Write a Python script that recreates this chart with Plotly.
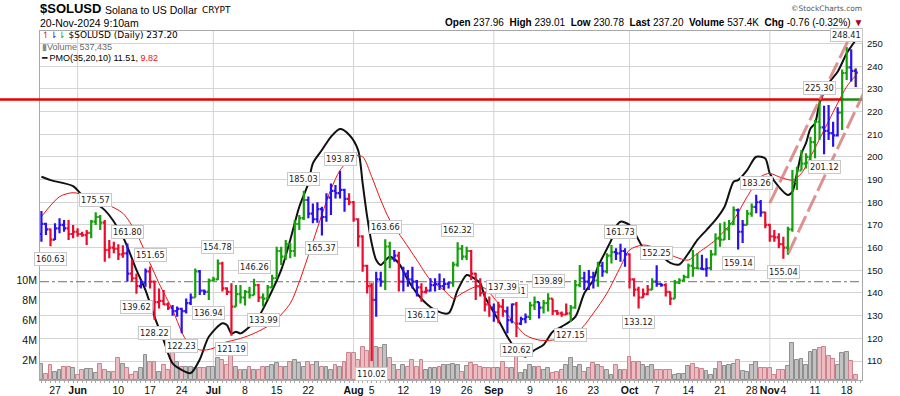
import plotly.graph_objects as go
import pandas as pd

# ---------------- data ----------------
start_date = "2024-05-24"
n_days = 181
dates = list(pd.date_range(start_date, periods=n_days, freq="D"))

opens = [
    166.0,170.5,168.0,163.5,168.5,170.0,168.5,166.0,167.0,166.0,
    165.5,166.5,171.5,173.5,171.0,159.0,160.0,159.5,157.0,157.5,
    148.5,146.5,143.0,144.5,149.5,145.0,136.0,136.5,135.0,133.5,
    132.0,133.0,132.0,135.5,138.0,149.5,141.0,140.5,145.5,146.0,
    153.0,142.0,140.5,134.0,139.5,138.0,140.5,139.0,143.5,138.0,
    137.5,142.5,146.5,158.5,156.0,161.5,158.5,170.5,173.0,181.0,
    175.0,172.5,177.0,173.5,182.0,185.0,184.0,185.5,181.5,180.0,
    172.5,165.0,152.0,143.0,137.0,146.0,145.0,160.5,155.0,156.5,
    145.0,148.5,146.0,145.0,142.5,140.5,141.0,143.5,144.0,143.0,
    144.0,144.5,152.5,159.5,156.0,158.5,148.5,143.0,140.0,135.0,
    133.5,131.5,134.0,132.0,128.0,135.0,126.5,128.5,129.5,134.5,
    136.0,133.5,135.5,137.5,132.0,131.0,130.5,131.0,133.5,143.5,
    146.5,145.0,147.0,145.5,152.0,149.5,156.5,158.0,157.5,158.5,
    157.0,146.0,141.5,138.0,139.5,141.5,145.0,144.0,143.5,140.5,
    137.5,144.5,145.5,147.0,152.0,151.0,150.8,150.5,151.0,157.0,
    164.0,163.5,168.0,170.5,176.5,167.0,170.0,175.0,178.0,180.0,
    175.5,170.0,165.0,164.5,161.5,160.0,168.0,189.0,194.0,197.0,
    200.0,206.5,215.5,213.0,211.5,210.5,209.5,219.5,237.0,239.5,237.96]
highs = [
    176.1,171.0,168.4,170.7,172.9,172.2,172.2,170.0,168.5,167.0,
    167.8,172.2,175.57,174.4,172.2,163.4,162.6,161.5,161.0,161.8,
    154.5,148.6,145.7,150.8,151.65,145.5,142.0,141.3,135.8,134.7,
    134.0,133.5,137.6,139.8,150.8,150.1,141.5,146.4,147.2,154.78,
    153.8,142.5,144.3,143.5,143.5,141.3,142.8,146.26,144.0,139.8,
    143.5,148.0,160.4,160.4,163.4,162.0,172.2,174.4,185.03,182.5,
    179.5,180.0,178.0,184.0,188.3,187.6,193.87,186.0,184.0,180.5,
    173.0,165.5,152.5,144.3,149.4,149.4,163.66,162.6,158.9,158.2,
    151.6,150.1,151.6,145.7,144.3,142.8,146.5,146.5,148.6,146.5,
    145.0,153.8,162.32,161.1,160.4,158.9,148.9,146.5,140.6,138.4,
    135.4,136.1,137.39,134.0,135.41,136.0,129.5,131.0,136.1,138.4,
    136.1,136.9,139.89,137.6,132.5,131.8,135.4,134.7,145.7,152.3,
    149.4,150.1,149.4,153.8,153.8,157.5,161.2,159.7,161.73,159.7,
    157.5,146.5,142.8,142.0,143.5,146.5,152.25,144.3,144.3,140.6,
    145.7,146.5,148.0,153.0,158.9,157.5,156.8,155.3,158.9,166.3,
    170.7,171.4,172.2,178.1,177.3,172.2,176.6,179.5,183.26,181.0,
    175.8,170.5,167.8,166.3,164.8,169.2,194.2,195.7,203.0,201.6,
    208.9,216.3,225.30,222.5,222.9,215.5,221.9,238.5,248.41,247.5,239.01]
lows = [
    162.6,165.6,160.63,163.4,166.3,167.0,163.4,164.1,164.8,164.8,
    161.2,164.1,170.0,167.8,153.8,155.3,157.5,154.5,155.5,145.0,
    145.0,139.62,142.0,142.8,142.0,128.22,133.2,134.7,132.5,130.0,
    129.5,122.23,131.0,134.7,138.0,139.1,139.1,136.94,145.0,145.7,
    140.6,139.1,121.19,133.9,135.4,134.5,137.6,139.0,136.0,133.99,
    137.0,142.0,146.4,152.3,154.5,155.3,156.0,167.8,172.2,172.9,
    170.7,171.0,165.37,171.4,174.4,181.7,181.7,175.8,178.8,171.4,
    160.4,149.4,139.8,110.02,129.5,142.8,141.3,150.9,153.8,140.6,
    140.6,142.8,142.0,138.4,136.12,139.8,140.6,140.6,141.3,141.3,
    142.0,142.8,151.6,154.5,154.5,145.7,136.9,138.4,131.8,129.5,
    127.3,126.6,129.5,122.2,126.6,120.62,125.9,126.6,128.1,132.5,
    128.8,131.0,131.8,130.3,130.3,129.5,130.3,127.15,133.0,142.5,
    141.3,141.3,142.0,142.8,147.2,148.6,153.0,154.5,153.8,151.6,
    142.0,138.4,133.12,137.8,139.0,141.3,142.8,142.8,138.4,134.7,
    137.5,144.0,145.0,146.5,147.2,150.5,150.1,147.2,150.0,156.5,
    160.4,163.4,163.4,170.0,159.14,162.0,170.0,173.6,175.1,173.6,
    168.5,162.6,162.6,159.7,155.04,156.8,167.0,185.4,194.0,194.9,
    196.0,199.4,207.4,201.12,207.4,204.5,209.0,211.9,233.9,233.2,230.78]
closes = [
    170.5,168.0,163.5,168.5,170.0,168.5,166.0,167.0,166.0,165.5,
    166.5,171.5,173.5,171.0,159.0,160.0,159.5,157.0,157.5,148.5,
    146.5,143.0,144.5,149.5,145.0,136.0,136.5,135.0,133.5,132.0,
    133.0,132.0,135.5,138.0,149.5,141.0,140.5,145.5,146.0,153.0,
    142.0,140.5,134.0,139.5,138.0,140.5,139.0,143.5,138.0,137.5,
    142.5,146.5,158.5,156.0,161.5,158.5,170.5,173.0,181.0,175.0,
    172.5,177.0,173.5,182.0,185.0,184.0,185.5,181.5,180.0,172.5,
    165.0,152.0,143.0,137.0,146.0,145.0,160.5,155.0,156.5,145.0,
    148.5,146.0,145.0,142.5,140.5,141.0,143.5,144.0,143.0,144.0,
    144.5,152.5,159.5,156.0,158.5,148.5,143.0,140.0,135.0,133.5,
    131.5,134.0,132.0,128.0,135.0,126.5,128.5,129.5,134.5,136.0,
    133.5,135.5,137.5,132.0,131.0,130.5,131.0,133.5,143.5,146.5,
    145.0,147.0,145.5,152.0,149.5,156.5,158.0,157.5,158.5,157.0,
    146.0,141.5,138.0,139.5,141.5,145.0,144.0,143.5,140.5,137.5,
    144.5,145.5,147.0,152.0,151.0,150.8,150.5,151.0,157.0,164.0,
    163.5,168.0,170.5,176.5,167.0,170.0,175.0,178.0,180.0,175.5,
    170.0,165.0,164.5,161.5,160.0,168.0,189.0,194.0,197.0,200.0,
    206.5,215.5,213.0,211.5,210.5,209.5,219.5,237.0,239.5,237.96,237.20]
# Elder impulse state of each bar: g = green, r = red, b = blue
impulse = list(
    "bbrbbbrrrr" "rgggrrrrrb" "rrbbrrrrrb" "bbbbgbbggg" "rrrgggggrg"
    "gggggggggb" "bbbbbbbbrr" "rrrrbbggbr" "bbbbrrbbbb" "bggggrrrrr"
    "brrbbrbbgg" "bggrrrrggg" "bbbgbggbbb" "rrrrrgbbrr" "ggggggbbgg"
    "ggggbbggbb" "rrrrrggggg" "gggbbbbggb" "b")
volume_m = [
    1.6,0.6,1.5,0.8,1.0,1.3,1.3,1.2,0.5,1.0,
    1.1,1.1,0.7,1.6,1.0,0.8,0.8,2.2,1.6,1.2,
    0.5,0.8,1.2,2.5,1.8,1.8,0.8,1.5,1.0,2.8,
    1.8,1.3,1.3,1.3,1.2,1.2,1.2,1.3,1.3,2.2,
    2.0,1.5,2.6,1.3,1.0,1.0,1.3,1.0,1.0,1.3,
    1.3,1.5,1.7,1.3,1.3,1.8,2.0,1.7,1.3,1.8,
    1.5,1.8,1.3,1.3,1.0,1.5,1.3,1.8,2.67,2.67,
    2.0,3.3,2.9,9.8,3.3,3.2,3.5,2.2,1.5,1.0,
    1.5,1.3,2.0,1.3,2.0,1.0,1.2,1.2,1.3,1.5,
    1.5,1.6,1.5,0.8,1.4,1.7,1.5,1.3,1.2,1.2,
    1.2,1.2,1.8,1.2,1.2,2.5,0.7,1.0,1.5,1.3,
    1.3,1.0,1.2,0.7,0.8,1.0,1.5,2.2,1.3,1.5,
    0.8,1.2,1.7,1.5,1.3,1.0,0.5,1.5,1.0,1.0,
    2.3,1.8,1.8,1.5,1.3,1.5,1.0,1.0,1.0,1.0,
    0.5,0.57,0.6,1.4,1.6,1.23,1.1,0.9,0.5,1.1,
    1.77,1.4,1.5,1.6,2.0,0.93,0.83,1.5,1.83,1.17,
    1.23,1.23,0.5,1.0,1.0,1.4,3.67,2.0,2.1,1.5,
    2.77,3.0,3.17,3.3,2.4,2.1,1.5,2.67,2.77,1.9,0.537435]

# PMO(35,20,10) line and its signal, read at sampled bars (bar index, value)
pmo_idx = [0,2,7,9,14,18,21,23,25,27,29,31,33,35,37,40,41,42,43,44,46,48,50,53,55,57,59,60,62,64,66,68,70,71,72,73,74,75,77,79,81,83,85,87,90,92,94,95,97,98,101,103,105,107,109,111,113,115,118,120,122,123,126,127,128,130,132,133,136,139,141,143,145,147,149,151,153,154,156,158,160,161,163,165,166,167,168,169,170,171,172,174,176,178,179,180]
pmo_val = [5.0,4.84,4.55,4.13,3.41,2.14,0.56,-0.4,-1.67,-2.78,-3.89,-4.2,-4.35,-3.7,-2.62,-1.98,-2.06,-2.46,-2.38,-2.46,-2.14,-1.67,-0.87,0.56,1.99,3.57,4.69,5.64,6.27,6.9,7.27,7.0,6.27,4.69,3.1,1.83,1.03,0.8,1.19,0.88,0.08,-0.55,-1.03,-1.35,-1.5,-0.4,0.32,0.24,-0.08,-0.71,-1.82,-2.62,-3.25,-3.57,-3.25,-3.0,-2.38,-2.14,-1.67,-0.55,0.08,0.71,2.0,2.62,2.86,2.7,1.99,1.63,1.4,0.9,0.82,1.35,1.99,2.46,2.94,3.57,4.76,4.84,5.32,5.95,5.87,5.16,4.52,4.13,4.29,5.16,6.11,6.6,7.3,7.54,8.5,9.45,10.0,10.88,11.2,11.51]
sig_idx = [0,4,7,10,14,18,21,24,26,29,32,35,38,40,44,47,51,55,57,60,62,64,66,69,71,73,75,77,80,83,86,89,91,93,96,98,101,104,107,110,113,116,119,122,125,128,130,133,136,140,143,145,149,153,156,159,161,163,166,168,170,173,176,178,180]
sig_val = [3.1,4.05,4.24,4.08,3.73,3.26,2.3,0.88,-0.08,-1.35,-2.78,-3.25,-3.17,-2.93,-2.7,-2.46,-1.98,-1.03,0.0,1.9,3.2,4.4,5.3,6.0,5.95,5.0,3.89,2.94,1.99,1.03,0.08,-0.4,-0.79,-0.55,-0.24,-0.31,-1.03,-1.82,-2.54,-2.78,-2.78,-2.62,-2.3,-1.5,-0.55,0.71,1.51,1.75,1.59,1.19,1.03,1.35,1.99,2.94,4.05,5.0,5.16,5.0,4.84,5.16,5.95,7.22,8.5,9.29,9.82]

# swing labels: (bar index, value)
high_labels = [(12,175.57),(19,161.80),(24,151.65),(39,154.78),(47,146.26),(58,185.03),
               (66,193.87),(76,163.66),(92,162.32),(104,135.41),(102,137.39),(112,139.89),
               (128,161.73),(136,152.25),(158,183.26),(172,225.30),(178,248.41)]
low_labels = [(2,160.63),(21,139.62),(25,128.22),(31,122.23),(37,136.94),(42,121.19),
              (49,133.99),(62,165.37),(73,110.02),(84,136.12),(105,120.62),(117,127.15),
              (132,133.12),(154,159.14),(164,155.04),(173,201.12)]

# trend channel drawn by the chartist (bar index, price)
chan_upper_idx = [161.0, 179.35]; chan_upper_val = [179.6, 255.5]
chan_lower_idx = [165.1, 183.1];  chan_lower_val = [157.5, 233.9]
resist_idx = 172  # horizontal line at that bar's high

tick_days = ["2024-05-27","2024-06-01","2024-06-10","2024-06-17","2024-06-24","2024-07-01",
             "2024-07-08","2024-07-15","2024-07-22","2024-08-01","2024-08-05","2024-08-12",
             "2024-08-19","2024-08-26","2024-09-01","2024-09-09","2024-09-16","2024-09-23",
             "2024-10-01","2024-10-07","2024-10-14","2024-10-21","2024-10-28","2024-11-01",
             "2024-11-04","2024-11-11","2024-11-18"]
tick_text = ["27","<b>Jun</b>","10","17","24","<b>Jul</b>","8","15","22","<b>Aug</b>","5","12",
             "19","26","<b>Sep</b>","9","16","23","<b>Oct</b>","7","14","21","28","<b>Nov</b>",
             "4","11","18"]
month_starts = ["2024-06-01","2024-07-01","2024-08-01","2024-09-01","2024-10-01","2024-11-01"]
price_ticks = [110,120,130,140,150,160,170,180,190,200,210,220,230,240,250]
vol_ticks = [2e6,4e6,6e6,8e6,10e6]
vol_text = ["2M","4M","6M","8M","10M"]

# ---------------- figure ----------------
d0 = pd.Timestamp(start_date)
def day(i):
    return d0 + pd.Timedelta(days=float(i))

GREEN, RED, BLUE = "#14a00a", "#ec0b2c", "#2a10ec"
imp_color = {"g": GREEN, "r": RED, "b": BLUE}
FONT = "Liberation Sans, Arial, sans-serif"
VFONT = "DejaVu Sans, Verdana, sans-serif"

fig = go.Figure()

# volume (base axis, drawn lowest)
down = [c < o for o, c in zip(opens, closes)]
fig.add_trace(go.Bar(
    x=dates, y=[v * 1e6 for v in volume_m], yaxis="y",
    width=86400000 * 0.86,
    marker=dict(color=["#ebbcc1" if d else "#c2c2c2" for d in down],
                line=dict(color=["#c9848d" if d else "#8e8e8e" for d in down], width=1)),
    hoverinfo="skip", showlegend=False))

# PMO lines
fig.add_trace(go.Scatter(x=[day(i) for i in pmo_idx], y=pmo_val, yaxis="y2", mode="lines",
                         line=dict(color="#111111", width=2, shape="spline", smoothing=0.8),
                         hoverinfo="skip", showlegend=False))
fig.add_trace(go.Scatter(x=[day(i) for i in sig_idx], y=sig_val, yaxis="y2", mode="lines",
                         line=dict(color="#f01010", width=1, shape="spline", smoothing=0.8),
                         hoverinfo="skip", showlegend=False))

# price bars, one OHLC trace per impulse colour
for key in ["g", "r", "b"]:
    idx = [i for i in range(n_days) if impulse[i] == key]
    col = imp_color[key]
    fig.add_trace(go.Ohlc(
        x=[dates[i] for i in idx], open=[opens[i] for i in idx], high=[highs[i] for i in idx],
        low=[lows[i] for i in idx], close=[closes[i] for i in idx], yaxis="y3",
        increasing=dict(line=dict(color=col, width=2.2)),
        decreasing=dict(line=dict(color=col, width=2.2)),
        tickwidth=0.45, hoverinfo="skip", showlegend=False))

shapes = []
for m in month_starts:
    shapes.append(dict(type="line", xref="x", yref="paper", x0=m, x1=m, y0=0, y1=1,
                       line=dict(color="#d2d2d2", width=1), layer="below"))
# PMO zero line
shapes.append(dict(type="line", xref="paper", yref="y2", x0=0, x1=1, y0=0, y1=0,
                   line=dict(color="#707070", width=1, dash="dashdot"), layer="below"))
# last-bar highlight
shapes.append(dict(type="rect", xref="x", yref="y3", x0=day(n_days - 1.45), x1=day(n_days - 0.55),
                   y0=lows[-1] - 0.6, y1=highs[-1] + 0.6, fillcolor="#ffff6e",
                   line=dict(width=0), layer="below"))
# resistance line
lvl = highs[resist_idx]
shapes.append(dict(type="line", xref="paper", yref="y3", x0=-0.0487, x1=0.9757, y0=lvl, y1=lvl,
                   line=dict(color="#e80000", width=2.5)))
shapes.append(dict(type="line", xref="paper", yref="y3", x0=0.9757, x1=1.0, y0=lvl, y1=lvl,
                   line=dict(color="#1a8a10", width=2.5)))
# trend channel
for ix, iv in [(chan_upper_idx, chan_upper_val), (chan_lower_idx, chan_lower_val)]:
    shapes.append(dict(type="line", xref="x", yref="y3", x0=day(ix[0]), x1=day(ix[1]),
                       y0=iv[0], y1=iv[1],
                       line=dict(color="rgba(214,120,120,0.8)", width=3, dash="18px,5px")))

anns = []
def lab(i, v, above):
    anns.append(dict(x=dates[i], y=v, xref="x", yref="y3", text=f"{v:.2f}", showarrow=False,
                     yanchor="bottom" if above else "top", yshift=5 if above else -6,
                     font=dict(family=VFONT, size=8.2, color="#1a1a1a"),
                     bgcolor="white", bordercolor="#c8c8c8", borderwidth=1, borderpad=1))
for i, v in high_labels:
    lab(i, v, True)
for i, v in low_labels:
    lab(i, v, False)

def ptop(py):  # pixel row -> paper y
    return 1 - (py - 31) / 349.0
def pleft(px):
    return (px - 40) / 822.0

# header
anns += [
    dict(x=pleft(38), y=ptop(8.7), xref="paper", yref="paper", xanchor="left", yanchor="middle",
         text="<b>$SOLUSD</b>", showarrow=False, font=dict(family=FONT, size=13, color="#000")),
    dict(x=pleft(103), y=ptop(9.5), xref="paper", yref="paper", xanchor="left", yanchor="middle",
         text="Solana to US Dollar", showarrow=False, font=dict(family=FONT, size=10.5, color="#000")),
    dict(x=pleft(200), y=ptop(9.5), xref="paper", yref="paper", xanchor="left", yanchor="middle",
         text="CRYPT", showarrow=False, font=dict(family=VFONT, size=9, color="#000")),
    dict(x=pleft(38), y=ptop(22.7), xref="paper", yref="paper", xanchor="left", yanchor="middle",
         text="20-Nov-2024 9:10am", showarrow=False, font=dict(family=FONT, size=10.5, color="#000")),
    dict(x=pleft(864), y=ptop(9), xref="paper", yref="paper", xanchor="right", yanchor="middle",
         text="©StockCharts.com", showarrow=False, font=dict(family=VFONT, size=7.5, color="#555")),
    dict(x=pleft(865), y=ptop(22), xref="paper", yref="paper", xanchor="right", yanchor="middle",
         text=("<b>Open</b> 237.96  <b>High</b> 239.01  <b>Low</b> 230.78  <b>Last</b> 237.20  "
               "<b>Volume</b> 537.4K  <b>Chg</b> -0.76 (-0.32%) <span style='color:#a8002a'>▼</span>"),
         showarrow=False, font=dict(family=FONT, size=10, color="#000")),
]
# legend (one block)
anns.append(dict(
    x=pleft(39), y=ptop(28), xref="paper", yref="paper", xanchor="left", yanchor="top",
    align="left", showarrow=False, font=dict(family=FONT, size=9, color="#000"),
    text=("<span style='color:#e0102a'>↿</span><span style='color:#2a10ec'>⇂</span>"
          "<span style='color:#14a00a'>⇂</span> <span style='font-family:DejaVu Sans'>$SOLUSD (Daily) 237.20</span><br>"
          "<span style='color:#8a8a8a'>▮</span><span style='color:#6a6a6a'>Volume 537,435</span><br>"
          "━ PMO(35,20,10) 11.51, <span style='color:#f01010'>9.82</span>")))

x_left = d0 - pd.Timedelta(hours=7.6)
x_right = x_left + pd.Timedelta(days=181.7)

fig.update_layout(
    width=900, height=396, margin=dict(l=40, r=38, t=31, b=16, autoexpand=False),
    paper_bgcolor="white", plot_bgcolor="white",
    showlegend=False, hovermode=False, bargap=0,
    xaxis=dict(type="date", range=[x_left, x_right], rangeslider=dict(visible=False),
               tickvals=tick_days, ticktext=tick_text, ticks="", showgrid=False, tickangle=0,
               showline=True, mirror=True, linecolor="#a8a8a8", linewidth=1, automargin=False,
               tickfont=dict(family=FONT, size=10.5, color="#111"),
               minor=dict(dtick=86400000, ticks="outside", ticklen=2, tickcolor="#aaaaaa",
                          showgrid=False),
               zeroline=False),
    yaxis=dict(range=[0, 34.9e6], side="left", tickvals=vol_ticks, ticktext=vol_text,
               showgrid=False, zeroline=False, showline=True, linecolor="#a8a8a8",
               ticks="", automargin=False, tickfont=dict(family=FONT, size=10.5, color="#111")),
    yaxis2=dict(range=[-4.68, 11.94], overlaying="y", visible=False, showgrid=False,
                zeroline=False),
    yaxis3=dict(range=[101.63, 255.51], overlaying="y", side="right", tickvals=price_ticks,
                showgrid=True, gridcolor="#d4d4d4", gridwidth=1, zeroline=False, automargin=False,
                showline=True, linecolor="#a8a8a8", ticks="", ticklabelstandoff=2,
                tickfont=dict(family=FONT, size=9.5, color="#111")),
    shapes=shapes, annotations=anns,
)

fig.write_html("out.html", config={"displayModeBar": False})
# remove the browser's default page margin so the figure sits at the window origin
with open("out.html", encoding="utf-8") as fh:
    html = fh.read()
html = html.replace("<head>", "<head><style>html,body{margin:0;padding:0;overflow:hidden;}</style>", 1)
with open("out.html", "w", encoding="utf-8") as fh:
    fh.write(html)
